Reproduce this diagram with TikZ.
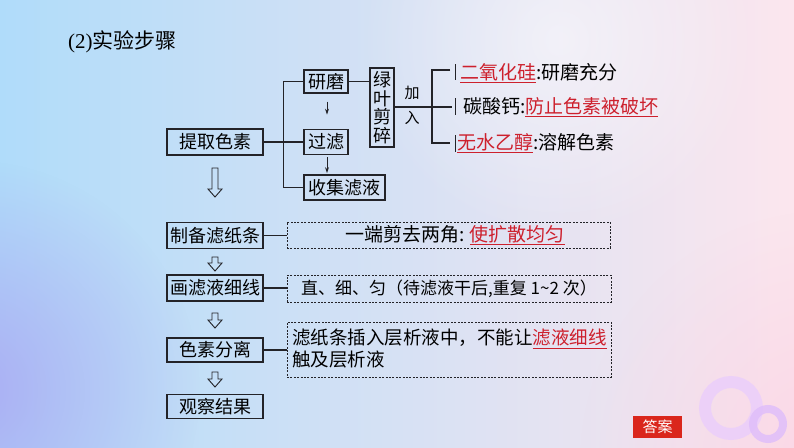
\documentclass[tikz,border=0pt]{standalone}
\usepackage{fontspec}
\setmainfont{Noto Sans CJK SC}
\newfontfamily\serifl{Liberation Serif}
\usetikzlibrary{arrows.meta,fadings,calc}
\tikzfading[name=myfade, inner color=transparent!0, outer color=transparent!100]
\definecolor{bgblue}{RGB}{176,220,250}
\definecolor{bgmid}{RGB}{234,238,251}
\definecolor{bgpink}{RGB}{252,230,238}
\definecolor{blobp}{RGB}{170,165,242}
\definecolor{blobpink}{RGB}{250,205,225}
\definecolor{linec}{RGB}{35,35,40}
\definecolor{accred}{RGB}{205,32,45}
\definecolor{ansred}{RGB}{218,38,28}
\definecolor{ringa}{RGB}{234,205,252}
\definecolor{ringb}{RGB}{224,190,250}
\newcommand\redul[1]{{\color{accred}\underline{#1}}}
\newcommand\fs[1]{\fontsize{#1}{#1}\selectfont}
\tikzset{
  stepbox/.style={draw=linec, line width=1.2pt, inner sep=0pt, text=black, font=\fs{18}},
  dbox/.style={draw=linec, dash pattern=on 2pt off 1.4pt, line width=0.9pt, inner sep=0pt},
  ln/.style={draw=linec, line width=1.1pt},
  smarrow/.style={draw=linec, line width=0.9pt, -{Stealth[length=6pt,width=4pt]}},
  hollow/.style={draw=linec, line width=0.9pt, line join=miter},
  plain/.style={inner sep=0pt, text=black}
}
\newcommand\hdown[3]{\draw[hollow] (#1-3,#2) -- (#1+3,#2) -- (#1+3,#3-8) -- (#1+7,#3-8) -- (#1,#3) -- (#1-7,#3-8) -- (#1-3,#3-8) -- cycle;}
\begin{document}
\begin{tikzpicture}[x=1pt,y=-1pt]
\useasboundingbox (0,0) rectangle (794,447);
% background
\shade[left color=bgblue, middle color=bgmid, right color=bgpink] (0,0) rectangle (794,447);
\begin{scope}
\clip (0,0) rectangle (794,447);
\fill[blobp, path fading=myfade, opacity=0.85] (-30,390) circle (230);
\fill[blobpink, path fading=myfade, opacity=0.6] (830,460) circle (250);
\fill[white, path fading=myfade, opacity=0.5] (560,40) circle (200);
\draw[ringa, line width=12pt, opacity=0.8] (731,408) circle (26);
\draw[ringb, line width=8pt, opacity=0.85] (768,424) circle (15);
\end{scope}
% title
\node[plain, anchor=west, font=\fs{21}] (title) at (68,42) {{\serifl (2)}实验步骤};
% extraction part
\node[stepbox, minimum width=96pt, minimum height=26pt] (tq) at (215,142) {提取色素};
\node[stepbox, minimum width=44pt, minimum height=23pt] (ym) at (326,81.5) {研磨};
\node[stepbox, minimum width=44pt, minimum height=25pt] (gl) at (326,142) {过滤};
\node[stepbox, minimum width=81pt, minimum height=25pt] (sj) at (344.5,187.5) {收集滤液};
\node[stepbox, minimum width=24pt, minimum height=79pt, align=center, font=\fontsize{18}{18.5}\selectfont] (lv) at (382,107.5) {绿\\叶\\剪\\碎};
\draw[ln] (tq.east) -- (gl.west);
\draw[ln] (ym.west) -- ++(-20,0) coordinate (vt) |- (sj.west);
\draw[ln] (ym.east) -- (ym.east -| lv.west);
\draw[smarrow] ($(ym.south)+(1,8)$) -- ++(0,13);
\draw[smarrow] ($(gl.south)+(1,2)$) -- ++(0,16);
\node[plain, font=\fs{15}] (jia) at (412,93) {加};
\node[plain, font=\fs{15}] (ru) at (412,118) {入};
\coordinate (br) at (432,107);
\draw[ln] (lv.east |- br) -- (br);
\draw[ln] (450,70) -- (432,70) -- (432,143) -- (450,143);
\draw[ln] (br) -- (452,107);
\draw[linec, line width=0.8pt] (455,64) -- (455,80);
\draw[linec, line width=0.8pt] (455,98) -- (455,115);
\draw[linec, line width=0.8pt] (455,135) -- (455,152);
\node[plain, anchor=west, font=\fs{19}] (r1) at (460,73) {\redul{二氧化硅}:研磨充分};
\node[plain, anchor=west, font=\fs{19}] (r2) at (463,107) {碳酸钙:\redul{防止色素被破坏}};
\node[plain, anchor=west, font=\fs{19}] (r3) at (457,143) {\redul{无水乙醇}:溶解色素};
% hollow arrows
\hdown{215}{168}{197}
\hdown{215}{257}{271}
\hdown{215}{313}{328}
\hdown{215}{372}{387}
% lower steps
\node[stepbox, minimum width=96pt, minimum height=26pt] (zb) at (215,235.5) {制备滤纸条};
\node[stepbox, minimum width=96pt, minimum height=26pt] (hx) at (215,288) {画滤液细线};
\node[stepbox, minimum width=96pt, minimum height=24pt] (fl) at (215,350) {色素分离};
\node[stepbox, minimum width=96pt, minimum height=24pt] (gc) at (215,406.5) {观察结果};
\node[dbox, minimum width=323pt, minimum height=26pt] (d1) at (448.5,235) {};
\node[plain, font=\fs{19}] (t1) at (455,235) {一端剪去两角: \redul{使扩散均匀}};
\node[dbox, minimum width=324pt, minimum height=27pt, font=\fs{17}] (d2) at (449,288.5) {直、细、匀（待滤液干后,重复 1\textasciitilde2 次）};
\node[dbox, minimum width=324pt, minimum height=55pt] (d3) at (449,349.5) {};
\node[plain, anchor=north west, align=left, font=\fontsize{18.5}{22}\selectfont] (t3) at (292,329) {滤纸条插入层析液中，不能让\redul{滤液细线}\\触及层析液};
\draw[ln] (zb.east) -- (d1.west |- zb.east);
\draw[ln] (hx.east) -- (d2.west |- hx.east);
\draw[ln] (fl.east) -- (d3.west |- fl.east);
% answer button
\node[fill=ansred, text=white, minimum width=49pt, minimum height=22pt, inner sep=0pt, font=\fs{15}] (ans) at (657.5,427) {答案};
\end{tikzpicture}
\end{document}
